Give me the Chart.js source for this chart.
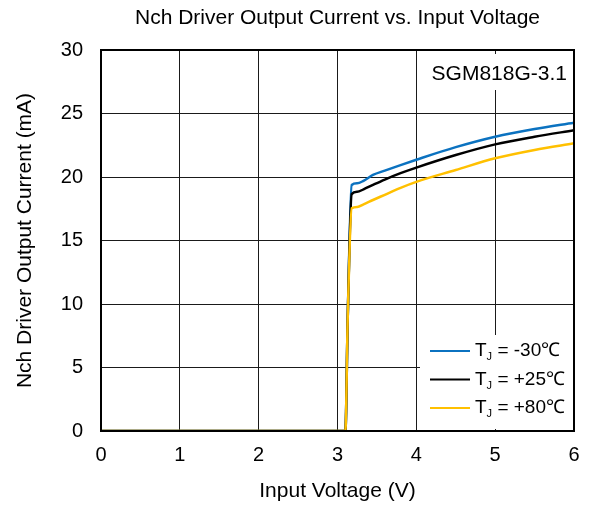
<!DOCTYPE html>
<html>
<head>
<meta charset="utf-8">
<script src="https://cdn.jsdelivr.net/npm/chart.js@4/dist/chart.umd.min.js"></script>
<style>
  html, body { margin: 0; padding: 0; background: #fff; }
  #wrap { width: 589px; height: 505px; }
</style>
</head>
<body>
<div id="wrap"><canvas id="chart" width="589" height="505"></canvas></div>
<script>
// data
const voltage   = [0, 1, 2, 3, 3.10, 3.13, 3.18, 3.25, 3.33, 3.45, 3.6, 3.8, 4, 4.5, 5, 5.5, 6];
const tjMinus30 = [0, 0, 0, 0, 0, 9, 19.37, 19.5, 19.7, 20.16, 20.5, 20.94, 21.36, 22.35, 23.17, 23.78, 24.28];
const tjPlus25  = [0, 0, 0, 0, 0, 9, 18.65, 18.83, 19.03, 19.38, 19.8, 20.3, 20.74, 21.73, 22.57, 23.17, 23.68];
const tjPlus80  = [0, 0, 0, 0, 0, 9, 17.53, 17.64, 17.85, 18.19, 18.6, 19.15, 19.62, 20.55, 21.47, 22.13, 22.65];
const seriesTemps = ['-30', '+25', '+80'];
const seriesColors = ['#0b72c0', '#000000', '#ffc000'];
const xTicks = [0, 1, 2, 3, 4, 5, 6];
const yTicks = [0, 5, 10, 15, 20, 25, 30];
const FONT = '"Liberation Sans", Arial, sans-serif';

const toPoints = (ys) => voltage.map((v, i) => ({ x: v, y: ys[i] }));

// title, frame, part label and legend
const extras = {
  id: 'extras',
  afterDatasetsDraw(chart) {
    const { ctx, chartArea: a } = chart;
    ctx.save();
    ctx.textBaseline = 'middle';

    // title centred over the plot
    ctx.fillStyle = '#000';
    ctx.font = '21px ' + FONT;
    ctx.textAlign = 'center';
    ctx.fillText('Nch Driver Output Current vs. Input Voltage', (a.left + a.right) / 2, 18);

    // label box in the top right
    ctx.textAlign = 'right';
    const tag = 'SGM818G-3.1';
    const tw = ctx.measureText(tag).width;
    ctx.fillStyle = '#fff';
    ctx.fillRect(a.right - tw - 12, a.top + 4, tw + 8, 36);
    ctx.fillStyle = '#000';
    ctx.fillText(tag, a.right - 7, a.top + 24);

    // legend in the bottom right
    const lx = a.right - 154, ly = a.bottom - 96;
    ctx.fillStyle = '#fff';
    ctx.fillRect(lx, ly, 153, 94);
    chart.data.datasets.forEach((ds, i) => {
      const y = ly + 16 + i * 28.5;
      ctx.strokeStyle = ds.borderColor;
      ctx.lineWidth = 2;
      ctx.beginPath();
      ctx.moveTo(lx + 10, y);
      ctx.lineTo(lx + 50, y);
      ctx.stroke();
      ctx.fillStyle = '#000';
      ctx.textAlign = 'left';
      ctx.font = '19px ' + FONT;
      let x = lx + 55;
      ctx.fillText('T', x, y);
      x += ctx.measureText('T').width;
      ctx.font = '11px ' + FONT;
      ctx.fillText('J', x, y + 6);
      x += ctx.measureText('J').width;
      ctx.font = '19px ' + FONT;
      const s = ' = ' + seriesTemps[i];
      ctx.fillText(s, x, y);
      x += ctx.measureText(s).width;
      ctx.fillText('℃', x, y);
    });

    // heavy frame
    ctx.strokeStyle = '#000';
    ctx.lineWidth = 2;
    ctx.strokeRect(a.left, a.top, a.right - a.left, a.bottom - a.top);
    ctx.restore();
  }
};

new Chart(document.getElementById('chart'), {
  type: 'line',
  data: {
    datasets: [
      { label: 'TJ = -30℃', data: toPoints(tjMinus30), borderColor: seriesColors[0], order: 3 },
      { label: 'TJ = +25℃', data: toPoints(tjPlus25), borderColor: seriesColors[1], order: 2 },
      { label: 'TJ = +80℃', data: toPoints(tjPlus80), borderColor: seriesColors[2], order: 1 }
    ].map(ds => Object.assign(ds, {
      borderWidth: 2.5,
      pointRadius: 0,
      fill: false,
      cubicInterpolationMode: 'monotone'
    }))
  },
  options: {
    responsive: false,
    animation: false,
    layout: { padding: { top: 50, right: 15, bottom: 0, left: 0 } },
    plugins: {
      legend: { display: false },
      tooltip: { enabled: false },
      title: { display: false }
    },
    scales: {
      x: {
        type: 'linear',
        min: 0, max: 6,
        afterFit: s => { s.height = 74; s.paddingLeft = 0; s.paddingRight = 0; },
        afterBuildTicks: s => { s.ticks = xTicks.map(v => ({ value: v })); },
        grid: { color: '#1a1a1a', lineWidth: 1, drawTicks: false },
        border: { color: '#000', width: 2 },
        ticks: { color: '#000', padding: 12, font: { family: FONT, size: 20 } },
        title: {
          display: true, text: 'Input Voltage (V)', color: '#000',
          font: { family: FONT, size: 21 }, padding: { top: 0, bottom: 1.5 }
        }
      },
      y: {
        min: 0, max: 30,
        afterFit: s => { s.width = 101; },
        afterBuildTicks: s => { s.ticks = yTicks.map(v => ({ value: v })); },
        grid: { color: '#1a1a1a', lineWidth: 1, drawTicks: false },
        border: { color: '#000', width: 2 },
        ticks: { color: '#000', padding: 18, font: { family: FONT, size: 20 } },
        title: {
          display: true, text: 'Nch Driver Output Current (mA)', color: '#000',
          font: { family: FONT, size: 21 }, padding: { top: 13, bottom: 0 }
        }
      }
    }
  },
  plugins: [extras]
});
</script>
</body>
</html>
